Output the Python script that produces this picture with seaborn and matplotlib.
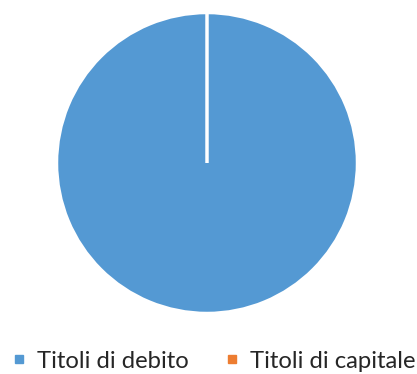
import matplotlib
matplotlib.use("Agg")
import matplotlib.pyplot as plt
from matplotlib.lines import Line2D
import seaborn as sns

categories = ["Titoli di debito", "Titoli di capitale"]
values = [100.0, 0.0]
colors = ["#5499D3", "#ED7D31"]

sns.set_theme(style="white")
plt.rcParams["font.family"] = ["Lato", "DejaVu Sans"]

W, H = 417, 374
fig = plt.figure(figsize=(W / 100, H / 100), dpi=100)
fig.patch.set_facecolor("white")

cx, cy, r = 207, 163, 150.5
ax = fig.add_axes([(cx - r) / W, (H - cy - r) / H, 2 * r / W, 2 * r / H])
ax.pie(values, colors=colors, startangle=90, counterclock=False,
       wedgeprops=dict(edgecolor="white", linewidth=2.5))
ax.set_xlim(-1.0, 1.0)
ax.set_ylim(-1.0, 1.0)
ax.axis("off")

handles = [Line2D([0], [0], marker="s", linestyle="none", markersize=6,
                  markerfacecolor=c, markeredgecolor=c) for c in colors]
fig.legend(handles, categories, loc="center", bbox_to_anchor=(0.51, 1 - 361 / H),
           ncol=2, frameon=False, fontsize=17.2, handletextpad=0.35,
           columnspacing=1.4, handlelength=0.8, borderpad=0, borderaxespad=0)

fig.savefig("out.png", dpi=100, facecolor="white")
